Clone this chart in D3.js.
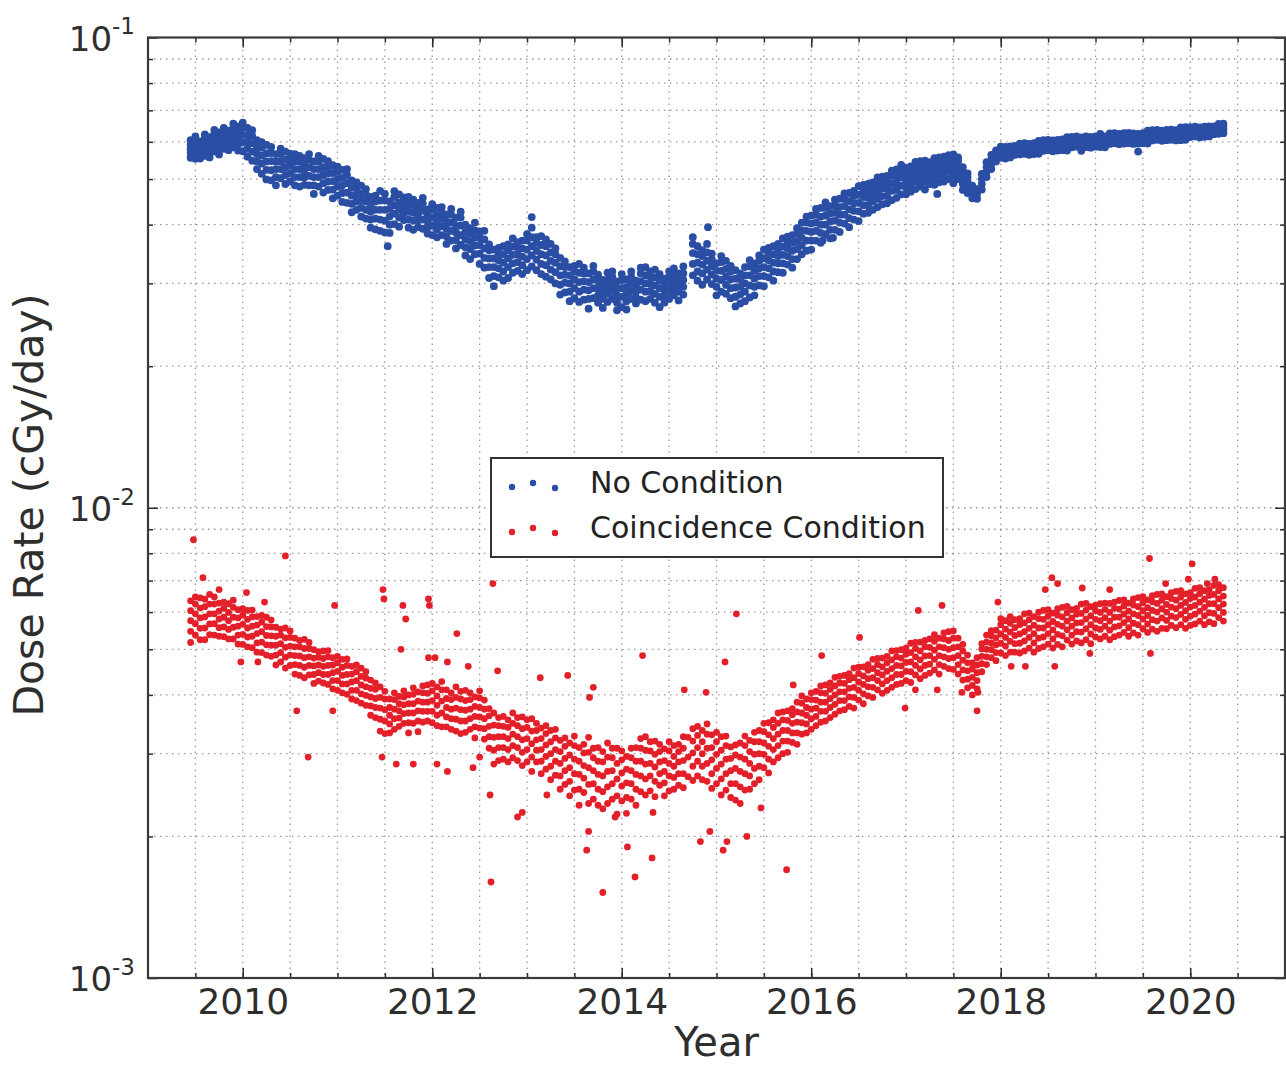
<!DOCTYPE html>
<html>
<head>
<meta charset="utf-8">
<script src="https://cdn.jsdelivr.net/npm/d3@7"></script>
<style>
  body { margin: 0; background: #fff; }
  svg { display: block; font-family: "DejaVu Sans", sans-serif; }
</style>
</head>
<body>
<script>
"use strict";

/*
  Data. Dose rates are in units of 1e-3 cGy/day.
  Each row: [year, value, value, ...]
*/
var seriesNames = ["No Condition", "Coincidence Condition"];
var yearTicks = [2010, 2012, 2014, 2016, 2018, 2020];
var decadeTicks = [1e-3, 1e-2, 1e-1];

var noCondition = [
  [2009.45,55.5,56.8,58,59.2,60.5],[2009.50,55.2,57,58.8,60.4,61.6],[2009.55,55.3,56.5,57.7,58.9,60.1],
  [2009.60,56,57.8,59.4,61,62.2],[2009.65,55.6,57.1,58.5,59.9,61.4],[2009.70,57.2,59,60.8,62.4,63.6],
  [2009.75,56.4,58,59.6,61.2,62.8],[2009.80,58,59.8,61.4,63,64.2],[2009.85,57.6,59.1,60.5,61.9,63.4],
  [2009.90,58.4,60.4,62.4,64.2,65.6],[2009.95,57.5,59.3,61.1,62.9,64.7],[2010.00,57.3,59.9,62.1,64.3,65.9],
  [2010.05,55.8,58,60,62,64.2],[2010.10,54.7,57.2,59.6,61.8,63.5],[2010.15,52.5,54.5,56.5,58.5,60.5],
  [2010.20,51.3,53.9,56.1,58.3,59.9],[2010.25,49.9,52.3,54.5,56.7,59.1],[2010.30,49.7,52.2,54.6,56.8,58.5],
  [2010.35,48.5,50.5,52.5,54.5,56.5],[2010.40,50.2,52.5,54.5,56.5,58],[2010.45,48.8,51,53,55,57.2],
  [2010.50,49.4,51.4,53.4,55.2,56.6],[2010.55,48.5,50.5,52.5,54.5,56.5],[2010.60,48.2,50.5,52.5,54.5,56],
  [2010.65,48.6,50.4,52,53.6,55.4],[2010.70,48.5,50.8,53,55,56.5],[2010.75,46.5,48.5,50.5,52.5,54.5],
  [2010.80,48.2,50.5,52.5,54.5,56],[2010.85,46.8,49,51,53,55.2],[2010.90,47.4,49.4,51.4,53.2,54.6],
  [2010.95,45.5,47.5,49.5,51.5,53.5],[2011.00,46.1,48.2,50,51.8,53.1],[2011.05,44.7,46.7,48.5,50.3,52.3],
  [2011.10,44.5,46.8,49,51,52.5],[2011.15,42.5,44.3,46.1,47.9,49.7],[2011.20,43,44.8,46.4,48,49.2],
  [2011.25,41.6,43.4,45,46.6,48.4],[2011.30,41.2,43,44.8,46.4,47.6],[2011.35,39.4,41,42.6,44.2,45.8],
  [2011.40,39.1,41.2,43,44.8,46.1],[2011.45,38.8,41,43,45,47.2],[2011.50,38.5,40.8,43,45,46.5],
  [2011.55,38.4,40,41.6,43.2,44.8],[2011.60,40.1,42.2,44,45.8,47.1],[2011.65,39.6,41.4,43,44.6,46.4],
  [2011.70,40.9,42.3,43.6,44.8,45.7],[2011.75,39.4,41,42.6,44.2,45.8],[2011.80,39,40.8,42.4,44,45.2],
  [2011.85,39.5,40.8,42,43.2,44.5],[2011.90,39.2,41,42.8,44.4,45.6],[2011.95,38.3,39.5,40.7,41.9,43.1],
  [2012.00,38,39.8,41.4,43,44.2],[2012.05,37.6,39.1,40.5,41.9,43.4],[2012.10,38,39.7,41.2,42.6,43.6],
  [2012.15,36.4,37.8,39.2,40.6,42],[2012.20,37,38.8,40.4,42,43.2],[2012.25,35.6,37.1,38.5,39.9,41.4],
  [2012.30,36.2,38,39.8,41.4,42.6],[2012.35,34.4,35.8,37.2,38.6,40],[2012.40,33.8,35.5,36.9,38.3,39.3],
  [2012.45,34.6,36.1,37.5,38.9,40.4],[2012.50,33,34.7,36.2,37.6,38.7],[2012.55,32.4,34,35.6,37.2,38.8],
  [2012.60,30.8,32.5,33.9,35.3,36.3],[2012.65,29.6,31.1,32.5,33.9,35.4],[2012.70,30.9,32.3,33.6,34.8,35.7],
  [2012.75,30.4,31.8,33.2,34.6,36],[2012.80,30.8,32.5,33.9,35.3,36.3],[2012.85,31.6,33.1,34.5,35.9,37.4],
  [2012.90,31.9,33.3,34.6,35.8,36.7],[2012.95,31.4,32.8,34.2,35.6,37],[2013.00,32,33.8,35.4,37,38.2],
  [2013.05,32.6,34.4,36,37.6,39.4],[2013.10,32,33.7,35.2,36.6,37.6],[2013.15,31.4,33,34.6,36.2,37.8],
  [2013.20,31,32.8,34.4,36,37.2],[2013.25,30.6,32.1,33.5,34.9,36.4],[2013.30,30,31.7,33.2,34.6,35.6],
  [2013.35,28.4,29.8,31.2,32.6,34],[2013.40,28.7,30.1,31.3,32.5,33.4],[2013.45,27.5,28.8,30,31.2,32.5],
  [2013.50,27.9,29.3,30.6,31.8,32.7],[2013.55,27.4,28.8,30.2,31.6,33],[2013.60,27.7,29.1,30.3,31.5,32.4],
  [2013.65,26.5,27.8,29,30.2,31.5],[2013.70,27.9,29.3,30.6,31.8,32.7],[2013.75,27.3,28.3,29.3,30.3,31.3],
  [2013.80,26.6,27.8,28.8,29.8,30.5],[2013.85,27.4,28.5,29.5,30.5,31.6],[2013.90,27.8,28.9,30,31,31.8],
  [2013.95,26.3,27.3,28.3,29.3,30.3],[2014.00,26.7,28.1,29.3,30.5,31.4],[2014.05,26.4,27.5,28.5,29.5,30.6],
  [2014.10,27.8,28.9,30,31,31.8],[2014.15,27.2,28,28.8,29.6,30.4],[2014.20,27.7,29.1,30.3,31.5,32.4],
  [2014.25,27.5,28.8,30,31.2,32.5],[2014.30,27.8,28.9,30,31,31.8],[2014.35,27.3,28.5,29.7,30.9,32.1],
  [2014.40,26.7,28.1,29.3,30.5,31.4],[2014.45,27.3,28.2,29,29.8,30.7],[2014.50,27.8,28.9,30,31,31.8],
  [2014.55,28.3,29.3,30.3,31.3,32.3],[2014.60,27.6,28.8,29.8,30.8,31.5],[2014.65,28.4,29.5,30.5,31.5,32.6],
  [2014.75,31.2,33,34.8,36.4,37.6],[2014.80,30.4,31.8,33.2,34.6,36],[2014.85,29.8,31.5,32.9,34.3,35.3],
  [2014.90,30.6,32.1,33.5,34.9,36.4],[2014.95,29.9,31.3,32.6,33.8,34.7],[2015.00,28.3,29.5,30.7,31.9,33.1],
  [2015.05,28.8,30.5,31.9,33.3,34.3],[2015.10,28.5,29.8,31,32.2,33.5],[2015.15,27.9,29.3,30.6,31.8,32.7],
  [2015.20,26.8,28.1,29.4,30.7,32],[2015.25,27.2,28.4,29.5,30.6,31.5],[2015.30,27.5,28.8,30,31.2,32.5],
  [2015.35,28,29.7,31.2,32.6,33.6],[2015.40,28.3,29.5,30.7,31.9,33.1],[2015.45,29.7,31.1,32.3,33.5,34.4],
  [2015.50,29.6,31.1,32.5,33.9,35.4],[2015.55,30.9,32.3,33.6,34.8,35.7],[2015.60,30.4,31.8,33.2,34.6,36],
  [2015.65,31.7,33.1,34.3,35.5,36.4],[2015.70,31.6,33.1,34.5,35.9,37.4],[2015.75,32.9,34.3,35.6,36.8,37.7],
  [2015.80,32.4,33.8,35.2,36.6,38],[2015.85,33.8,35.5,36.9,38.3,39.3],[2015.90,34.6,36.1,37.5,38.9,40.4],
  [2015.95,35.2,37,38.8,40.4,41.6],[2016.00,35.4,37,38.6,40.2,41.8],[2016.05,37,38.8,40.4,42,43.2],
  [2016.10,36.6,38.4,40,41.6,43.4],[2016.15,38.2,40,41.8,43.4,44.6],[2016.20,37.4,39,40.6,42.2,43.8],
  [2016.25,39,40.8,42.4,44,45.2],[2016.30,38.6,40.4,42,43.6,45.4],[2016.35,40.2,42,43.8,45.4,46.6],
  [2016.40,39.5,41.3,43.1,44.9,46.7],[2016.45,41,42.8,44.4,46,47.2],[2016.50,40.7,42.7,44.5,46.3,48.3],
  [2016.55,42.2,44,45.8,47.4,48.6],[2016.60,42.4,44,45.6,47.2,48.8],[2016.65,43,44.8,46.4,48,49.2],
  [2016.70,43.6,45.4,47,48.6,50.4],[2016.75,44.2,46,47.8,49.4,50.6],[2016.80,44.4,46,47.6,49.2,50.8],
  [2016.85,45.1,47.2,49,50.8,52.1],[2016.90,45.6,47.4,49,50.6,52.4],[2016.95,46.4,48.4,50.4,52.2,53.6],
  [2017.00,46.4,48,49.6,51.2,52.8],[2017.05,47,48.8,50.4,52,53.2],[2017.10,47.6,49.4,51,52.6,54.4],
  [2017.15,48.2,50,51.8,53.4,54.6],[2017.20,47.5,49.3,51.1,52.9,54.7],[2017.25,48.8,50.5,51.9,53.3,54.3],
  [2017.30,48.6,50.4,52,53.6,55.4],[2017.35,49.2,51,52.8,54.4,55.6],[2017.40,49.4,51,52.6,54.2,55.8],
  [2017.45,50,51.8,53.4,55,56.2],[2017.50,50.6,52.1,53.5,54.9,56.4],[2017.55,50,51.7,53.2,54.6,55.6],
  [2017.60,47.4,48.8,50.2,51.6,53],[2017.65,46.7,48.1,49.3,50.5,51.4],[2017.70,45.5,47,48.4],
  [2017.75,45.4,46.5,47.6],[2017.80,47.5,48.8,50,51.3],[2017.85,50.5,51.8,53,54.3],
  [2017.90,52.5,53.8,55,56.3],[2017.95,54.5,55.6,56.6,57.5],[2018.00,55.5,56.6,57.6,58.6],
  [2018.05,55.3,56.3,57.4,58.5],[2018.10,55.6,56.8,57.9,58.7],[2018.15,56.3,57.2,58,58.8],
  [2018.20,56.4,57.5,58.5,59.5],[2018.25,56.6,57.7,58.8,59.6],[2018.30,56.3,57.3,58.3,59.4],
  [2018.35,56.5,57.6,58.7,59.6],[2018.40,56.6,57.8,59,60.3],[2018.45,57.4,58.4,59.4,60.5],
  [2018.50,57.6,58.7,59.8,60.6],[2018.55,57.3,58.3,59.3,60.4],[2018.60,57.5,58.6,59.6,60.6],
  [2018.65,57.6,58.8,59.9,60.7],[2018.70,57.5,58.8,60.1,61.4],[2018.75,58.4,59.4,60.4,61.5],
  [2018.80,58.6,59.7,60.8,61.6],[2018.85,57.4,58.6,60,61.3],[2018.90,58.5,59.6,60.6,61.6],
  [2018.95,58.3,59.3,60.4,61.5],[2019.00,58.6,59.7,60.8,61.6],[2019.05,58.5,59.8,61.1,62.4],
  [2019.10,58.4,59.5,60.5,61.6],[2019.15,59.4,60.4,61.4,62.5],[2019.20,59.6,60.7,61.8,62.6],
  [2019.25,59.3,60.3,61.3,62.4],[2019.30,59.5,60.6,61.6,62.6],[2019.35,59.6,60.8,61.9,62.7],
  [2019.40,59.4,60.4,61.5,62.5],[2019.45,57.2,59.5,61,62.4],[2019.50,59.6,60.7,61.8,62.6],
  [2019.55,59.5,60.8,62.1,63.4],[2019.60,60.4,61.4,62.4,63.5],[2019.65,60.6,61.7,62.8,63.6],
  [2019.70,60.3,61.3,62.3,63.4],[2019.75,60.5,61.6,62.6,63.6],[2019.80,60.6,61.8,62.9,63.7],
  [2019.85,60.4,61.4,62.5,63.5],[2019.90,60.5,61.8,63.1,64.4],[2019.95,60.6,61.9,63.2,64.5],
  [2020.00,61.4,62.4,63.4,64.5],[2020.05,61.6,62.7,63.8,64.6],[2020.10,61.3,62.3,63.3,64.4],
  [2020.15,61.5,62.6,63.6,64.6],[2020.20,61.6,62.8,63.9,64.7],[2020.25,62.3,63.1,63.9,64.7],
  [2020.30,62.4,63.4,64.4,65.5],[2020.35,62.6,63.7,64.8,65.6]
];

var noConditionStray = [
  [2011.53,36],[2014.91,39.5],[2013.05,41.5],[2016.12,37],[2016.23,37.5],[2017.33,46.5],[2017.50,49]
];

var coincidence = [
  [2009.45,5.17,5.46,5.75,6.04,6.34],[2009.50,5.36,5.67,5.95,6.24,6.46],[2009.55,5.24,5.54,5.83,6.12,6.43],
  [2009.60,5.24,5.55,5.86,6.16,6.39],[2009.65,5.37,5.66,5.95,6.24,6.54],[2009.70,5.36,5.67,5.95,6.24,6.46],
  [2009.75,5.33,5.56,5.8,6.03,6.27],[2009.80,5.32,5.58,5.85,6.11,6.3],[2009.85,5.26,5.51,5.75,5.99,6.25],
  [2009.90,5.26,5.57,5.85,6.14,6.36],[2009.95,5.13,5.36,5.6,5.83,6.07],[2010.00,5.12,5.38,5.65,5.91,6.1],
  [2010.05,5.06,5.31,5.55,5.79,6.05],[2010.10,5.04,5.33,5.6,5.86,6.06],[2010.15,4.93,5.16,5.4,5.63,5.87],
  [2010.20,4.92,5.18,5.45,5.71,5.9],[2010.25,4.86,5.11,5.35,5.59,5.85],[2010.30,4.83,5.1,5.34,5.58,5.77],
  [2010.35,4.63,4.86,5.1,5.33,5.57],[2010.40,4.7,4.92,5.14,5.36,5.52],[2010.45,4.56,4.81,5.05,5.29,5.55],
  [2010.50,4.62,4.86,5.08,5.3,5.47],[2010.55,4.43,4.64,4.85,5.06,5.28],[2010.60,4.4,4.62,4.84,5.06,5.22],
  [2010.65,4.35,4.58,4.8,5.02,5.25],[2010.70,4.41,4.62,4.82,5.02,5.17],[2010.75,4.23,4.42,4.61,4.79,4.99],
  [2010.80,4.28,4.46,4.63,4.81,4.94],[2010.85,4.24,4.42,4.6,4.78,4.96],[2010.90,4.21,4.42,4.62,4.82,4.97],
  [2010.95,4.12,4.29,4.46,4.63,4.8],[2011.00,4.09,4.29,4.49,4.68,4.83],[2011.05,4.04,4.22,4.4,4.58,4.76],
  [2011.10,4.01,4.22,4.42,4.62,4.77],[2011.15,3.92,4.09,4.26,4.43,4.6],[2011.20,3.89,4.09,4.29,4.48,4.63],
  [2011.25,3.84,4.02,4.2,4.38,4.56],[2011.30,3.8,3.99,4.16,4.34,4.48],[2011.35,3.62,3.79,3.96,4.13,4.3],
  [2011.40,3.58,3.76,3.93,4.11,4.24],[2011.45,3.35,3.55,3.75,3.95,4.16],[2011.50,3.31,3.52,3.72,3.92,4.07],
  [2011.55,3.32,3.47,3.62,3.76,3.92],[2011.60,3.38,3.56,3.73,3.91,4.04],[2011.65,3.43,3.57,3.7,3.83,3.97],
  [2011.70,3.48,3.65,3.81,3.96,4.08],[2011.75,3.32,3.49,3.66,3.83,4.0],[2011.80,3.48,3.66,3.83,4.01,4.14],
  [2011.85,3.34,3.52,3.7,3.88,4.06],[2011.90,3.5,3.69,3.86,4.04,4.18],[2011.95,3.52,3.69,3.86,4.03,4.2],
  [2012.00,3.49,3.69,3.89,4.08,4.23],[2012.05,3.44,3.62,3.8,3.98,4.16],[2012.10,3.42,3.66,3.88,4.1,4.27],
  [2012.15,3.42,3.59,3.76,3.93,4.1],[2012.20,3.38,3.56,3.73,3.91,4.04],[2012.25,3.35,3.55,3.75,3.95,4.16],
  [2012.30,3.31,3.52,3.72,3.92,4.07],[2012.35,3.33,3.52,3.71,3.89,4.09],[2012.40,3.38,3.56,3.73,3.91,4.04],
  [2012.45,3.24,3.42,3.6,3.78,3.96],[2012.50,3.4,3.59,3.76,3.94,4.08],[2012.55,3.22,3.39,3.56,3.73,3.9],
  [2012.60,3.08,3.26,3.43,3.61,3.74],[2012.65,2.85,3.05,3.25,3.45,3.66],[2012.70,2.9,3.09,3.26,3.44,3.58],
  [2012.75,2.92,3.09,3.26,3.43,3.6],[2012.80,2.88,3.06,3.23,3.41,3.54],[2012.85,2.94,3.12,3.3,3.48,3.66],
  [2012.90,2.9,3.09,3.26,3.44,3.58],[2012.95,2.83,3.02,3.21,3.39,3.59],[2013.00,2.88,3.06,3.23,3.41,3.54],
  [2013.05,2.75,2.95,3.15,3.35,3.56],[2013.10,2.88,3.05,3.21,3.36,3.48],[2013.15,2.72,2.89,3.06,3.23,3.4],
  [2013.20,2.78,2.96,3.13,3.31,3.44],[2013.25,2.64,2.82,3.0,3.18,3.36],[2013.30,2.7,2.89,3.06,3.24,3.38],
  [2013.35,2.52,2.69,2.86,3.03,3.2],[2013.40,2.58,2.76,2.93,3.11,3.24],[2013.45,2.44,2.62,2.8,2.98,3.16],
  [2013.50,2.51,2.72,2.92,3.12,3.27],[2013.55,2.33,2.52,2.71,2.89,3.09],[2013.60,2.48,2.66,2.83,3.01,3.14],
  [2013.65,2.35,2.58,2.8,3.02,3.25],[2013.70,2.4,2.59,2.76,2.94,3.08],[2013.75,2.33,2.52,2.71,2.89,3.09],
  [2013.80,2.29,2.49,2.69,2.88,3.03],[2013.85,2.35,2.55,2.75,2.95,3.16],[2013.90,2.4,2.59,2.76,2.94,3.08],
  [2013.95,2.23,2.44,2.65,2.86,3.08],[2014.00,2.38,2.56,2.73,2.91,3.04],[2014.05,2.24,2.42,2.6,2.78,2.96],
  [2014.10,2.4,2.59,2.76,2.94,3.08],[2014.15,2.33,2.52,2.71,2.89,3.09],[2014.20,2.49,2.69,2.89,3.08,3.23],
  [2014.25,2.45,2.65,2.85,3.05,3.26],[2014.30,2.5,2.69,2.86,3.04,3.18],[2014.35,2.43,2.62,2.81,2.99,3.19],
  [2014.40,2.57,2.72,2.88,3.03,3.14],[2014.45,2.44,2.6,2.75,2.9,3.07],[2014.50,2.5,2.69,2.86,3.04,3.18],
  [2014.55,2.52,2.67,2.82,2.96,3.12],[2014.60,2.57,2.72,2.88,3.03,3.14],[2014.65,2.54,2.72,2.9,3.08,3.26],
  [2014.70,2.68,2.95,3.25],[2014.75,2.63,2.82,3.01,3.19,3.39],[2014.80,2.69,2.89,3.09,3.28,3.43],
  [2014.85,2.64,2.82,3.0,3.18,3.36],[2014.90,2.62,2.86,3.08,3.3,3.47],[2014.95,2.53,2.72,2.91,3.09,3.29],
  [2015.00,2.59,2.79,2.99,3.18,3.33],[2015.05,2.45,2.65,2.85,3.05,3.26],[2015.10,2.51,2.72,2.92,3.12,3.27],
  [2015.15,2.42,2.59,2.76,2.93,3.1],[2015.20,2.39,2.59,2.79,2.98,3.13],[2015.25,2.35,2.55,2.75,2.95,3.16],
  [2015.30,2.51,2.72,2.92,3.12,3.27],[2015.35,2.52,2.69,2.86,3.03,3.2],[2015.40,2.59,2.79,2.99,3.18,3.33],
  [2015.45,2.64,2.82,3.0,3.18,3.36],[2015.50,2.8,2.99,3.16,3.34,3.48],[2015.55,2.73,2.92,3.11,3.29,3.49],
  [2015.60,2.88,3.06,3.23,3.41,3.54],[2015.65,2.94,3.12,3.3,3.48,3.66],[2015.70,3.0,3.19,3.36,3.54,3.68],
  [2015.75,3.02,3.19,3.36,3.53,3.7],[2015.80,3.17,3.32,3.48,3.63,3.74],[2015.85,3.14,3.32,3.5,3.68,3.86],
  [2015.90,3.3,3.49,3.66,3.84,3.98],[2015.95,3.32,3.47,3.62,3.76,3.92],[2016.00,3.38,3.56,3.73,3.91,4.04],
  [2016.05,3.44,3.6,3.75,3.9,4.07],[2016.10,3.5,3.69,3.86,4.04,4.18],[2016.15,3.52,3.69,3.86,4.03,4.2],
  [2016.20,3.58,3.76,3.93,4.11,4.24],[2016.25,3.64,3.82,4.0,4.18,4.36],[2016.30,3.7,3.89,4.06,4.24,4.38],
  [2016.35,3.72,3.89,4.06,4.23,4.4],[2016.40,3.78,3.96,4.13,4.31,4.44],[2016.45,3.75,3.95,4.15,4.35,4.56],
  [2016.50,3.9,4.09,4.26,4.44,4.58],[2016.55,3.83,4.02,4.21,4.39,4.59],[2016.60,3.98,4.16,4.33,4.51,4.64],
  [2016.65,3.95,4.15,4.35,4.55,4.76],[2016.70,4.1,4.29,4.46,4.64,4.78],[2016.75,4.03,4.22,4.41,4.59,4.79],
  [2016.80,4.09,4.29,4.49,4.68,4.83],[2016.85,4.15,4.35,4.55,4.75,4.96],[2016.90,4.21,4.42,4.62,4.82,4.97],
  [2016.95,4.23,4.42,4.61,4.79,4.99],[2017.00,4.29,4.49,4.69,4.88,5.03],[2017.05,4.25,4.48,4.7,4.92,5.15],
  [2017.10,4.41,4.62,4.82,5.02,5.17],[2017.15,4.33,4.54,4.75,4.96,5.18],[2017.20,4.4,4.62,4.84,5.06,5.22],
  [2017.25,4.45,4.65,4.85,5.05,5.26],[2017.30,4.52,4.76,4.98,5.2,5.37],[2017.35,4.43,4.64,4.85,5.06,5.28],
  [2017.40,4.6,4.82,5.04,5.26,5.42],[2017.45,4.55,4.78,5.0,5.22,5.45],[2017.50,4.53,4.8,5.04,5.28,5.47],
  [2017.55,4.43,4.64,4.85,5.06,5.28],[2017.60,4.3,4.52,4.74,4.96,5.12],[2017.65,4.14,4.32,4.5,4.68,4.86],
  [2017.70,4.0,4.19,4.36,4.54,4.68],[2017.75,4.12,4.29,4.46,4.63,4.8],[2017.80,4.48,4.66,4.83,5.01,5.14],
  [2017.85,4.64,4.82,5.0,5.18,5.36],[2017.90,4.8,4.99,5.16,5.34,5.48],[2017.95,4.73,4.92,5.11,5.29,5.49],
  [2018.00,4.91,5.15,5.39,5.64,5.81],[2018.05,4.85,5.08,5.3,5.52,5.75],[2018.10,4.93,5.2,5.44,5.68,5.87],
  [2018.15,4.93,5.14,5.35,5.56,5.78],[2018.20,4.91,5.15,5.39,5.64,5.81],[2018.25,4.96,5.21,5.45,5.69,5.95],
  [2018.30,5.03,5.3,5.54,5.78,5.97],[2018.35,4.93,5.16,5.4,5.63,5.87],[2018.40,5.02,5.28,5.55,5.81,6.0],
  [2018.45,5.06,5.31,5.55,5.79,6.05],[2018.50,5.13,5.4,5.64,5.88,6.07],[2018.55,5.03,5.26,5.5,5.73,5.97],
  [2018.60,5.12,5.38,5.65,5.91,6.1],[2018.65,5.06,5.34,5.6,5.86,6.14],[2018.70,5.23,5.5,5.74,5.98,6.17],
  [2018.75,5.13,5.36,5.6,5.83,6.07],[2018.80,5.21,5.45,5.69,5.94,6.11],[2018.85,5.16,5.44,5.7,5.96,6.24],
  [2018.90,5.24,5.53,5.8,6.06,6.26],[2018.95,5.14,5.39,5.64,5.89,6.16],[2019.00,5.31,5.55,5.79,6.04,6.21],
  [2019.05,5.26,5.51,5.75,5.99,6.25],[2019.10,5.33,5.6,5.84,6.08,6.27],[2019.15,5.24,5.49,5.74,5.99,6.26],
  [2019.20,5.32,5.58,5.85,6.11,6.3],[2019.25,5.36,5.61,5.85,6.09,6.35],[2019.30,5.43,5.7,5.94,6.18,6.37],
  [2019.35,5.33,5.56,5.8,6.03,6.27],[2019.40,5.42,5.68,5.95,6.21,6.4],[2019.45,5.36,5.64,5.9,6.16,6.44],
  [2019.50,5.53,5.8,6.04,6.28,6.47],[2019.55,5.43,5.66,5.9,6.13,6.37],[2019.60,5.52,5.78,6.05,6.31,6.5],
  [2019.65,5.46,5.74,6.0,6.26,6.54],[2019.70,5.54,5.83,6.1,6.36,6.56],[2019.75,5.53,5.76,6.0,6.23,6.47],
  [2019.80,5.62,5.88,6.15,6.41,6.6],[2019.85,5.56,5.84,6.1,6.36,6.64],[2019.90,5.64,5.93,6.2,6.46,6.66],
  [2019.95,5.54,5.79,6.04,6.29,6.56],[2020.00,5.62,5.88,6.15,6.41,6.6],[2020.05,5.66,5.94,6.2,6.46,6.74],
  [2020.10,5.74,6.03,6.3,6.56,6.76],[2020.15,5.64,5.89,6.14,6.39,6.66],[2020.20,5.72,5.98,6.25,6.51,6.7],
  [2020.25,5.67,5.96,6.25,6.54,6.84],[2020.30,5.84,6.13,6.4,6.66,6.86],[2020.35,5.74,5.99,6.24,6.49,6.76]
];

var coincidenceStray = [
  [2009.48,8.55],[2009.58,7.1],[2009.75,6.7],[2010.04,6.6],[2010.23,6.3],[2010.45,7.9],[2010.97,6.2],
  [2009.98,4.7],[2010.16,4.7],[2010.57,3.7],[2010.95,3.7],[2010.69,2.95],[2011.48,6.7],[2011.49,6.4],
  [2011.69,6.2],[2011.72,5.8],[2011.96,6.4],[2011.97,6.2],[2011.67,5.0],[2011.96,4.8],[2012.03,4.8],
  [2012.16,4.7],[2012.26,5.4],[2012.38,4.6],[2012.64,6.9],[2012.69,4.5],[2011.47,2.95],[2011.62,2.85],
  [2011.80,2.85],[2012.05,2.85],[2012.16,2.75],[2012.43,2.8],[2012.50,2.95],[2013.14,4.35],[2013.43,4.4],
  [2013.70,4.15],[2013.66,3.95],[2014.22,4.85],[2014.66,4.1],[2014.89,4.05],[2015.09,4.7],[2015.21,5.95],
  [2012.62,1.6],[2012.61,2.45],[2012.90,2.2],[2012.95,2.25],[2013.21,2.45],[2013.63,1.87],[2013.65,2.05],
  [2013.80,1.52],[2013.93,2.2],[2014.06,1.9],[2014.14,1.64],[2014.32,1.8],[2014.33,2.25],[2014.83,1.95],
  [2014.93,2.05],[2015.07,1.87],[2015.11,1.95],[2015.32,2.0],[2015.74,1.7],[2015.47,2.3],[2015.81,4.2],
  [2016.11,4.85],[2016.51,5.3],[2016.99,3.75],[2017.10,4.1],[2017.13,6.05],[2017.38,6.2],[2017.33,4.1],
  [2017.59,4.05],[2017.75,3.7],[2017.76,4.05],[2017.97,6.3],[2018.11,4.6],[2018.26,4.6],[2018.47,6.7],
  [2018.54,7.1],[2018.60,6.9],[2018.57,4.6],[2018.86,6.75],[2019.15,6.7],[2019.57,7.8],[2019.74,6.9],
  [2020.02,7.6],[2019.98,7.05],[2020.18,6.9],[2020.26,7.05],[2019.58,4.9],[2018.94,4.9]
];

var colors = ["#2b4ea5", "#e3202a"];

/*
  D3 setup
*/
var width = 1286, height = 1066;
var plot = { left: 148, right: 1285, top: 37.5, bottom: 978 };
var ink = "#2e2e2e";

var svg = d3.select("body").append("svg")
    .attr("width", width)
    .attr("height", height);

svg.append("rect").attr("width", width).attr("height", height).attr("fill", "#fff");

var x = d3.scaleLinear().domain([2009, 2021]).range([plot.left, plot.right]);
var y = d3.scaleLog().domain([1e-3, 1e-1]).range([plot.bottom, plot.top]);

var halfYears = d3.range(2009.5, 2021, 0.5);
var minorRates = [];
[1e-3, 1e-2].forEach(function (dec) {
  for (var m = 2; m <= 9; m++) minorRates.push(m * dec);
});
var hGrid = minorRates.concat([1e-2]);

// dotted grid
var grid = svg.append("g").attr("class", "grid")
    .attr("stroke", "#9a9a9a").attr("stroke-width", 1.3).attr("stroke-dasharray", "1.5,4.5");
grid.selectAll("line.v").data(halfYears).enter().append("line")
    .attr("x1", function (d) { return x(d); }).attr("x2", function (d) { return x(d); })
    .attr("y1", plot.top).attr("y2", plot.bottom);
grid.selectAll("line.h").data(hGrid).enter().append("line")
    .attr("y1", function (d) { return y(d); }).attr("y2", function (d) { return y(d); })
    .attr("x1", plot.left).attr("x2", plot.right);

// flatten rows into points
function toPoints(rows, strays) {
  var pts = [];
  rows.forEach(function (r) {
    for (var i = 1; i < r.length; i++) pts.push({ year: r[0], rate: r[i] * 1e-3 });
  });
  strays.forEach(function (s) { pts.push({ year: s[0], rate: s[1] * 1e-3 }); });
  return pts;
}

var series = [
  { name: seriesNames[0], pts: toPoints(noCondition, noConditionStray), color: colors[0], r: 3.9 },
  { name: seriesNames[1], pts: toPoints(coincidence, coincidenceStray), color: colors[1], r: 3.4 }
];

series.forEach(function (s) {
  svg.append("g").selectAll("circle").data(s.pts).enter().append("circle")
      .attr("cx", function (d) { return x(d.year); })
      .attr("cy", function (d) { return y(d.rate); })
      .attr("r", s.r)
      .attr("fill", s.color);
});

/*
  Axes (ticks point inward, on all four sides)
*/
function styleAxis(g) {
  g.select(".domain").remove();
  g.selectAll(".tick line").attr("stroke", ink).attr("stroke-width", 1.5);
  g.selectAll(".tick text").attr("fill", ink);
}

var xAxis = svg.append("g").attr("transform", "translate(0," + plot.bottom + ")")
    .call(d3.axisBottom(x).tickValues(yearTicks).tickFormat(d3.format("d"))
      .tickSize(-10).tickPadding(10))
    .call(styleAxis);
xAxis.selectAll(".tick text").attr("font-size", 36).attr("font-family", "DejaVu Sans");

svg.append("g").attr("transform", "translate(0," + plot.bottom + ")")
    .call(d3.axisBottom(x).tickValues(halfYears).tickFormat("").tickSize(-5)).call(styleAxis);
svg.append("g").attr("transform", "translate(0," + plot.top + ")")
    .call(d3.axisTop(x).tickValues(yearTicks).tickFormat("").tickSize(-10)).call(styleAxis);
svg.append("g").attr("transform", "translate(0," + plot.top + ")")
    .call(d3.axisTop(x).tickValues(halfYears).tickFormat("").tickSize(-5)).call(styleAxis);

var yAxis = svg.append("g").attr("transform", "translate(" + plot.left + ",0)")
    .call(d3.axisLeft(y).tickValues(decadeTicks).tickSize(-10).tickPadding(13))
    .call(styleAxis);
yAxis.selectAll(".tick text")
    .attr("font-size", 34).attr("font-family", "DejaVu Sans").attr("dy", "0.38em")
    .each(function (d) {
      var t = d3.select(this).text(null);
      t.append("tspan").text("10");
      t.append("tspan").attr("font-size", 23).attr("dy", "-0.72em")
        .text("-" + Math.round(-Math.log10(d)));
    });

svg.append("g").attr("transform", "translate(" + plot.left + ",0)")
    .call(d3.axisLeft(y).tickValues(minorRates).tickFormat("").tickSize(-5)).call(styleAxis);
svg.append("g").attr("transform", "translate(" + plot.right + ",0)")
    .call(d3.axisRight(y).tickValues(decadeTicks).tickFormat("").tickSize(-10)).call(styleAxis);
svg.append("g").attr("transform", "translate(" + plot.right + ",0)")
    .call(d3.axisRight(y).tickValues(minorRates).tickFormat("").tickSize(-5)).call(styleAxis);

// frame
svg.append("rect")
    .attr("x", plot.left).attr("y", plot.top)
    .attr("width", plot.right - plot.left).attr("height", plot.bottom - plot.top)
    .attr("fill", "none").attr("stroke", "#3a3a3a").attr("stroke-width", 2.2);

// axis titles
svg.append("text")
    .attr("x", (plot.left + plot.right) / 2).attr("y", 1056)
    .attr("text-anchor", "middle").attr("font-size", 40).attr("fill", ink)
    .text("Year");

svg.append("text")
    .attr("transform", "translate(43," + 505 + ") rotate(-90)")
    .attr("text-anchor", "middle").attr("font-size", 41).attr("fill", ink)
    .text("Dose Rate (cGy/day)");

/*
  Legend
*/
var legend = svg.append("g").attr("transform", "translate(491,458)");
legend.append("rect")
    .attr("width", 452).attr("height", 99)
    .attr("fill", "#fff").attr("stroke", "#333").attr("stroke-width", 2);

var markerOffsets = [[21, 0], [42, -4], [64, 1]];
series.forEach(function (s, i) {
  var row = legend.append("g").attr("transform", "translate(0," + (29 + i * 45) + ")");
  row.selectAll("circle").data(markerOffsets).enter().append("circle")
      .attr("cx", function (d) { return d[0]; })
      .attr("cy", function (d) { return d[1]; })
      .attr("r", 3.2)
      .attr("fill", s.color);
  row.append("text")
      .attr("x", 99).attr("y", 6)
      .attr("font-size", 30).attr("fill", "#222")
      .text(s.name);
});
</script>
</body>
</html>
